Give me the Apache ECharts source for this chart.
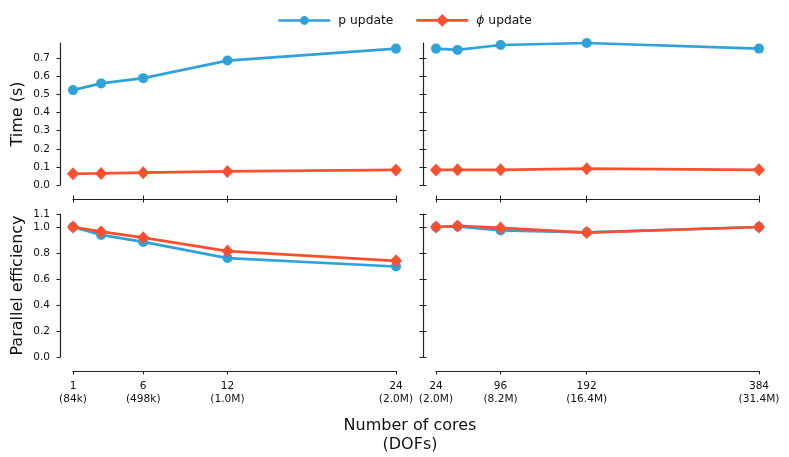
<!DOCTYPE html>
<html>
<head>
<meta charset="utf-8">
<script src="https://cdn.jsdelivr.net/npm/echarts@6/dist/echarts.min.js"></script>
<style>
  html, body { margin: 0; padding: 0; background: #fff; }
  #chart { width: 789px; height: 457px; }
</style>
</head>
<body>
<div id="chart"></div>
<script>
// cores on each side (strong scaling left, weak scaling right)
var leftCores = [1, 3, 6, 12, 24]
var rightCores = [24, 48, 96, 192, 384]
// tick labels
var leftTicks = [1, 6, 12, 24]
var leftDofs = ['84k', '498k', '1.0M', '2.0M']
var rightTicks = [24, 96, 192, 384]
var rightDofs = ['2.0M', '8.2M', '16.4M', '31.4M']
var timeTicks = [0, 0.1, 0.2, 0.3, 0.4, 0.5, 0.6, 0.7]
var effTicks = [0, 0.2, 0.4, 0.6, 0.8, 1.0, 1.1]
// time (s)
var pTimeLeft = [0.524, 0.561, 0.590, 0.687, 0.753]
var phiTimeLeft = [0.062, 0.064, 0.068, 0.075, 0.083]
var pTimeRight = [0.753, 0.746, 0.773, 0.784, 0.753]
var phiTimeRight = [0.083, 0.084, 0.084, 0.090, 0.084]
// parallel efficiency
var pEffLeft = [1.0, 0.939, 0.885, 0.761, 0.696]
var phiEffLeft = [1.0, 0.964, 0.918, 0.815, 0.740]
var pEffRight = [1.0, 1.005, 0.974, 0.959, 1.0]
var phiEffRight = [1.0, 1.008, 0.993, 0.957, 1.0]

var blue = '#30a2da'
var red = '#fc4f30'
var ink = '#222'
var font = 'DejaVu Sans'
var circleSize = 10
var diamondSize = [12, 13]

function pairs (xs, ys) {
  return xs.map(function (x, i) { return [x, ys[i]] })
}

// main x axis of a panel
function xAx (grid, cores, ticks, dofs, labels) {
  return {
    type: 'value', gridIndex: grid, min: cores[0], max: cores[cores.length - 1],
    position: 'bottom', offset: 14,
    splitLine: { show: false },
    axisLine: { onZero: false, lineStyle: { color: ink, width: 1.2 } },
    axisTick: { inside: false, length: 3.5, customValues: ticks, lineStyle: { color: ink, width: 1 } },
    axisLabel: {
      show: labels, customValues: ticks, margin: 9,
      color: '#111', fontFamily: font, fontSize: 10.6, lineHeight: 13,
      formatter: function (v) {
        var i = ticks.indexOf(v)
        return v + '\n(' + dofs[i] + ')'
      }
    }
  }
}
// twin x axis drawing only the inner half of the ticks
function xTwin (grid, cores, ticks) {
  return {
    type: 'value', gridIndex: grid, min: cores[0], max: cores[cores.length - 1],
    position: 'bottom', offset: 14,
    splitLine: { show: false },
    axisLine: { show: false, onZero: false },
    axisTick: { inside: true, length: 3.5, customValues: ticks, lineStyle: { color: ink, width: 1 } },
    axisLabel: { show: false }
  }
}
function yAx (grid, max, ticks, labels, name) {
  return {
    type: 'value', gridIndex: grid, min: 0, max: max,
    position: 'left', offset: 13,
    splitLine: { show: false },
    name: name, nameLocation: 'middle', nameGap: 34,
    nameTextStyle: { color: '#111', fontFamily: font, fontSize: 16 },
    axisLine: { show: true, onZero: false, lineStyle: { color: ink, width: 1.2 } },
    axisTick: { show: true, inside: false, length: 3.5, customValues: ticks, lineStyle: { color: ink, width: 1 } },
    axisLabel: {
      show: labels, customValues: ticks, margin: 10,
      color: '#111', fontFamily: font, fontSize: 10.5,
      formatter: function (v) { return v.toFixed(1) }
    }
  }
}
function yTwin (grid, max, ticks) {
  return {
    type: 'value', gridIndex: grid, min: 0, max: max,
    position: 'left', offset: 13,
    splitLine: { show: false },
    axisLine: { show: false, onZero: false },
    axisTick: { show: true, inside: true, length: 3.5, customValues: ticks, lineStyle: { color: ink, width: 1 } },
    axisLabel: { show: false }
  }
}
function line (name, color, symbol, size, xi, yi, data) {
  return {
    name: name, type: 'line', xAxisIndex: xi, yAxisIndex: yi,
    data: data, symbol: symbol, symbolSize: size, showSymbol: true,
    lineStyle: { color: color, width: 2.7 },
    itemStyle: { color: color },
    emphasis: { disabled: true },
    animation: false
  }
}
function legendItem (name, left, top, height) {
  return {
    left: left, top: top, padding: 0,
    itemWidth: 52, itemHeight: height,
    lineStyle: { width: 2.7 },
    data: [name],
    formatter: function (n) {
      return n === 'ϕ update' ? '{i|ϕ} update' : n
    },
    textStyle: {
      color: '#111', fontFamily: font, fontSize: 12.3, padding: [0, 0, 0, 3],
      rich: { i: { fontStyle: 'italic', fontFamily: font, fontSize: 12.3, color: '#111' } }
    }
  }
}

var chart = echarts.init(document.getElementById('chart'))
var option = {
  animation: false,
  title: {
    text: 'Number of cores\n(DOFs)',
    left: 405, top: 411, textAlign: 'center',
    textStyle: { color: '#111', fontFamily: font, fontSize: 16, fontWeight: 'normal', lineHeight: 19 }
  },
  legend: [
    legendItem('p update', 277, 14.5, 11),
    legendItem('ϕ update', 415, 14, 16)
  ],
  grid: [
    { left: 73, top: 43, width: 323, height: 142 },
    { left: 436, top: 43, width: 323, height: 142 },
    { left: 73, top: 214, width: 323, height: 143 },
    { left: 436, top: 214, width: 323, height: 143 }
  ],
  xAxis: [
    xAx(0, leftCores, leftTicks, leftDofs, false),
    xAx(1, rightCores, rightTicks, rightDofs, false),
    xAx(2, leftCores, leftTicks, leftDofs, true),
    xAx(3, rightCores, rightTicks, rightDofs, true),
    xTwin(0, leftCores, leftTicks),
    xTwin(1, rightCores, rightTicks)
  ],
  yAxis: [
    yAx(0, 0.784, timeTicks, true, 'Time (s)'),
    yAx(1, 0.784, timeTicks, false, ''),
    yAx(2, 1.1, effTicks, true, 'Parallel efficiency'),
    yAx(3, 1.1, effTicks, false, ''),
    yTwin(1, 0.784, timeTicks),
    yTwin(3, 1.1, effTicks)
  ],
  series: [
    line('p update', blue, 'circle', circleSize, 0, 0, pairs(leftCores, pTimeLeft)),
    line('ϕ update', red, 'diamond', diamondSize, 0, 0, pairs(leftCores, phiTimeLeft)),
    line('p update', blue, 'circle', circleSize, 1, 1, pairs(rightCores, pTimeRight)),
    line('ϕ update', red, 'diamond', diamondSize, 1, 1, pairs(rightCores, phiTimeRight)),
    line('p update', blue, 'circle', circleSize, 2, 2, pairs(leftCores, pEffLeft)),
    line('ϕ update', red, 'diamond', diamondSize, 2, 2, pairs(leftCores, phiEffLeft)),
    line('p update', blue, 'circle', circleSize, 3, 3, pairs(rightCores, pEffRight)),
    line('ϕ update', red, 'diamond', diamondSize, 3, 3, pairs(rightCores, phiEffRight))
  ]
}
chart.setOption(option)
</script>
</body>
</html>
